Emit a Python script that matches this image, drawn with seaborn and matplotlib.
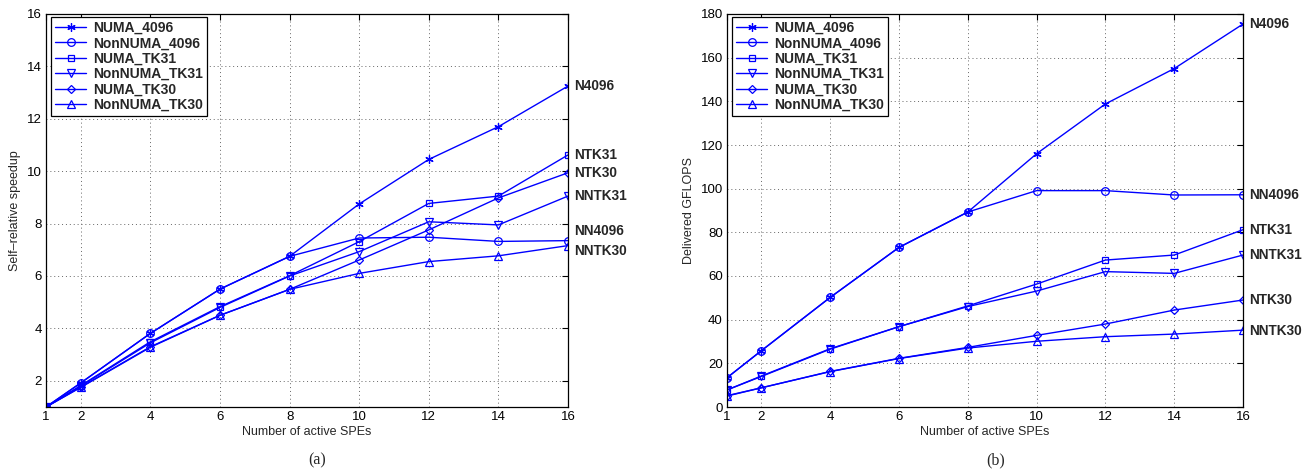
import numpy as np
import pandas as pd
import matplotlib
matplotlib.use("Agg")
import matplotlib.pyplot as plt
import seaborn as sns

# ---------------- data ----------------
spes = [1, 2, 4, 6, 8, 10, 12, 14, 16]
series_names = ["NUMA_4096", "NonNUMA_4096", "NUMA_TK31", "NonNUMA_TK31", "NUMA_TK30", "NonNUMA_TK30"]
end_labels = ["N4096", "NN4096", "NTK31", "NNTK31", "NTK30", "NNTK30"]

# (a) self-relative speedup
speedup_numa_4096 = [1, 1.92, 3.81, 5.5, 6.75, 8.75, 10.45, 11.7, 13.25]
speedup_nonnuma_4096 = [1, 1.92, 3.81, 5.5, 6.75, 7.45, 7.48, 7.32, 7.35]
speedup_numa_tk31 = [1, 1.82, 3.49, 4.83, 6.01, 7.31, 8.77, 9.05, 10.62]
speedup_nonnuma_tk31 = [1, 1.8, 3.45, 4.8, 6.0, 6.93, 8.07, 7.95, 9.05]
speedup_numa_tk30 = [1, 1.76, 3.3, 4.5, 5.49, 6.61, 7.76, 8.98, 9.94]
speedup_nonnuma_tk30 = [1, 1.75, 3.28, 4.5, 5.49, 6.1, 6.55, 6.77, 7.16]
speedup_label_y = [13.25, 7.72, 10.62, 9.05, 9.94, 6.97]

# (b) delivered GFLOPS
gflops_numa_4096 = [13.4, 25.8, 50.2, 73.1, 89.3, 116.0, 138.8, 155.0, 175.4]
gflops_nonnuma_4096 = [13.4, 25.8, 50.2, 73.1, 89.3, 99.1, 99.1, 97.1, 97.2]
gflops_numa_tk31 = [7.8, 14.2, 26.7, 36.8, 46.3, 56.3, 67.3, 69.6, 81.2]
gflops_nonnuma_tk31 = [7.8, 14.0, 26.5, 36.8, 46.0, 53.1, 62.0, 61.2, 69.6]
gflops_numa_tk30 = [5.2, 8.8, 16.3, 22.3, 27.3, 32.8, 38.0, 44.4, 49.0]
gflops_nonnuma_tk30 = [5.0, 8.8, 16.2, 22.2, 27.0, 30.1, 32.2, 33.4, 35.2]
gflops_label_y = [175.4, 97.2, 81.2, 69.6, 49.0, 34.8]

speedup_series = [speedup_numa_4096, speedup_nonnuma_4096, speedup_numa_tk31,
                  speedup_nonnuma_tk31, speedup_numa_tk30, speedup_nonnuma_tk30]
gflops_series = [gflops_numa_4096, gflops_nonnuma_4096, gflops_numa_tk31,
                 gflops_nonnuma_tk31, gflops_numa_tk30, gflops_nonnuma_tk30]

markers = [(6, 2, 0), "o", "s", "v", "D", "^"]
msizes = [6, 5.5, 5, 5.5, 4.5, 5.5]

sns.set_theme(style="white")
plt.rcParams["font.family"] = ["Liberation Sans", "DejaVu Sans"]

fig = plt.figure(figsize=(13.02, 4.70), dpi=100)
ax1 = fig.add_axes([46 / 1302, 1 - 407 / 470, 522 / 1302, 393 / 470])
ax2 = fig.add_axes([727 / 1302, 1 - 407 / 470, 516 / 1302, 393 / 470])

BLUE = (0, 0, 1)


def draw(ax, all_series, label_y, ylim, yticks, ylabel, panel):
    for name, vals, mk, ms in zip(series_names, all_series, markers, msizes):
        sns.lineplot(x=spes, y=vals, ax=ax, color=BLUE, marker=mk, markersize=ms,
                     markerfacecolor="none", markeredgecolor=BLUE, markeredgewidth=0.9,
                     linewidth=1.0, label=name, legend=False)
    for lab, ly in zip(end_labels, label_y):
        ax.annotate(lab, xy=(16, ly), xytext=(4.5, 0), textcoords="offset points",
                    va="center", ha="left", fontsize=9.8, fontweight="bold",
                    annotation_clip=False)
    ax.set_xlim(1, 16)
    ax.set_ylim(*ylim)
    ax.set_xticks(spes)
    ax.set_yticks(yticks)
    ax.tick_params(direction="in", length=4, width=0.8, top=True, right=True,
                   labelsize=9.5, pad=3, colors="black")
    ax.grid(True, linestyle=(0, (1, 3)), color="#666666", linewidth=0.7)
    for sp in ax.spines.values():
        sp.set_color("black")
        sp.set_linewidth(0.9)
    ax.set_xlabel("Number of active SPEs", fontsize=9, labelpad=2)
    ax.set_ylabel(ylabel, fontsize=9, labelpad=4)
    leg = ax.legend(loc="upper left", bbox_to_anchor=(0.01, 0.993),
                    prop={"weight": "bold", "size": 10}, frameon=True,
                    fancybox=False, edgecolor="black", framealpha=1,
                    handlelength=2.2, handletextpad=0.5, labelspacing=0.1,
                    borderpad=0.3, borderaxespad=0.0)
    leg.get_frame().set_linewidth(0.9)
    ax.text(0.52, -0.135, panel, transform=ax.transAxes, ha="center", va="center",
            fontsize=11.5, family=["Liberation Serif", "DejaVu Serif"])


draw(ax1, speedup_series, speedup_label_y, (1, 16), list(range(2, 17, 2)),
     "Self\u2013relative speedup", "(a)")
draw(ax2, gflops_series, gflops_label_y, (0, 180), list(range(0, 181, 20)),
     "Delivered GFLOPS", "(b)")

fig.savefig("out.png", dpi=100)
